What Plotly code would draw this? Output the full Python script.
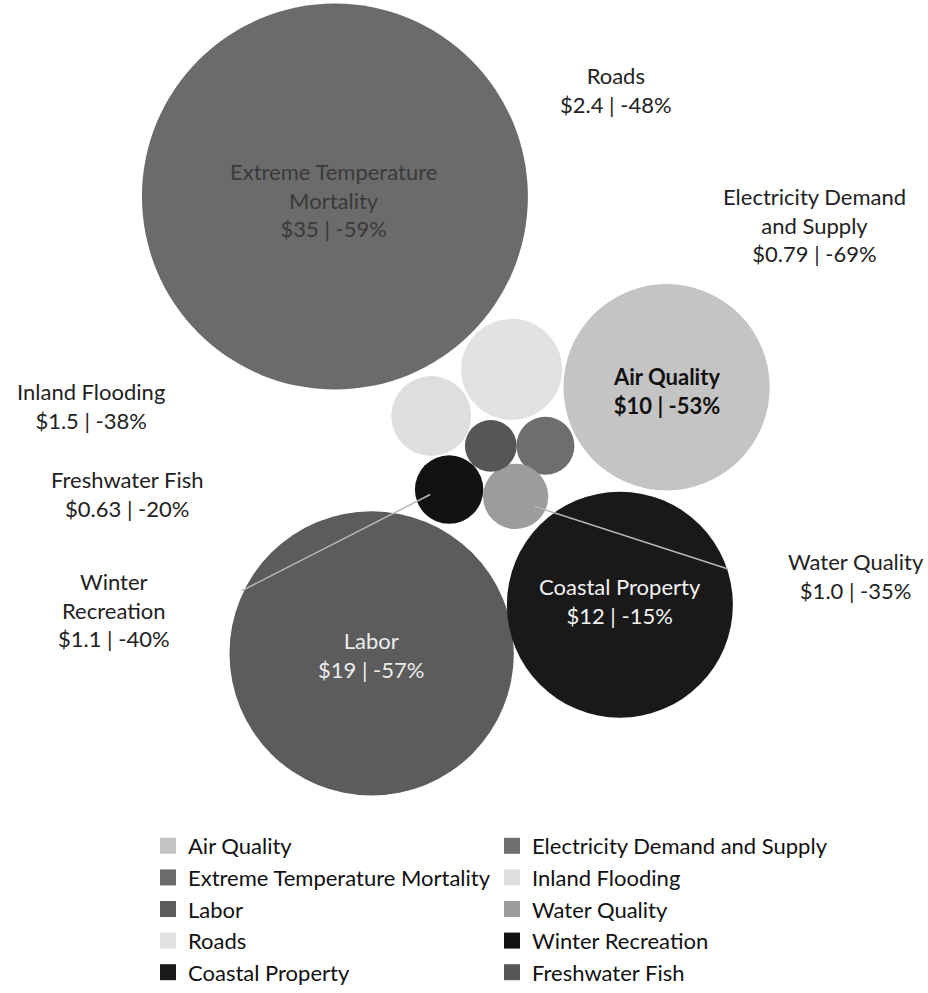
import plotly.graph_objects as go

# ---- data ----
categories = ["Air Quality", "Extreme Temperature Mortality", "Labor", "Roads",
              "Coastal Property", "Electricity Demand and Supply", "Inland Flooding",
              "Water Quality", "Winter Recreation", "Freshwater Fish"]
value_bn = [10, 35, 19, 2.4, 12, 0.79, 1.5, 1.0, 1.1, 0.63]
value_txt = ["$10", "$35", "$19", "$2.4", "$12", "$0.79", "$1.5", "$1.0", "$1.1", "$0.63"]
pct_change = [-53, -59, -57, -48, -15, -69, -38, -35, -40, -20]
# packed-bubble layout positions (chart coordinates)
bubble_x = [668, 334, 371, 512, 621, 546, 431, 516, 449, 491]
bubble_y = [390, 198, 658, 372, 609, 449, 419, 500, 493, 449]

colors = ["#c4c4c4", "#6b6b6b", "#5c5c5c", "#e2e2e2", "#191919",
          "#6e6e6e", "#dedede", "#9c9c9c", "#121212", "#565656"]

FONT = "Lato"
W, H = 928, 993

fig = go.Figure()

# bubbles
for i, c in enumerate(categories):
    fig.add_trace(go.Scatter(
        x=[bubble_x[i]], y=[bubble_y[i]], mode="markers",
        marker=dict(size=[value_bn[i]], sizemode="area", sizeref=1 / 2128,
                    color=colors[i], line=dict(width=0), opacity=1),
        showlegend=False, hoverinfo="skip"))

# leader lines (Winter Recreation, Water Quality)
fig.add_trace(go.Scatter(x=[430, 240], y=[498, 595], mode="lines",
                         line=dict(color="#b8b8b8", width=1.5),
                         showlegend=False, hoverinfo="skip"))
fig.add_trace(go.Scatter(x=[535, 730], y=[510, 573], mode="lines",
                         line=dict(color="#b8b8b8", width=1.5),
                         showlegend=False, hoverinfo="skip"))

# legend entries (square swatches), two columns
for i, c in enumerate(categories):
    fig.add_trace(go.Scatter(
        x=[None], y=[None], mode="markers", name=c,
        marker=dict(symbol="square", size=16, color=colors[i]),
        legend="legend" if i < 5 else "legend2",
        legendgroup=c, showlegend=True))

def lab(i, name_lines):
    return "<br>".join(name_lines + [f"{value_txt[i]} | {pct_change[i]}%"])

annots = [
    # (index, lines, x, y_center, color, bold)
    (1, ["Extreme Temperature", "Mortality"], 333, 201, "#3a3a3a", False),
    (0, ["Air Quality"], 668, 394, "#111111", True),
    (2, ["Labor"], 370, 660, "#ececec", False),
    (4, ["Coastal Property"], 621, 605, "#f2f2f2", False),
    (3, ["Roads"], 617, 91, "#222222", False),
    (5, ["Electricity Demand", "and Supply"], 817, 227, "#222222", False),
    (6, ["Inland Flooding"], 88, 409, "#222222", False),
    (9, ["Freshwater Fish"], 125, 497, "#222222", False),
    (8, ["Winter", "Recreation"], 112, 614, "#222222", False),
    (7, ["Water Quality"], 859, 580, "#222222", False),
]
for i, lines, x, y, col, bold in annots:
    t = lab(i, lines)
    if bold:
        t = "<b>" + t + "</b>"
    fig.add_annotation(x=x, y=y, xref="x", yref="y", text=t, showarrow=False,
                       font=dict(family=FONT, size=22, color=col),
                       align="center", xanchor="center", yanchor="middle")

fig.update_layout(
    width=W, height=H,
    margin=dict(l=0, r=0, t=0, b=0),
    paper_bgcolor="white", plot_bgcolor="white",
    xaxis=dict(range=[0, W], visible=False, fixedrange=True),
    yaxis=dict(range=[H, 0], visible=False, fixedrange=True,
               scaleanchor="x", scaleratio=1),
    legend=dict(x=148 / W, y=1 - 831 / H, xanchor="left", yanchor="top",
                font=dict(family=FONT, size=22, color="#111111"),
                tracegroupgap=0, itemsizing="trace", bgcolor="rgba(0,0,0,0)"),
    legend2=dict(x=492 / W, y=1 - 831 / H, xanchor="left", yanchor="top",
                 font=dict(family=FONT, size=22, color="#111111"),
                 tracegroupgap=0, itemsizing="trace", bgcolor="rgba(0,0,0,0)"),
    font=dict(family=FONT),
)

fig.write_html("out.html")
